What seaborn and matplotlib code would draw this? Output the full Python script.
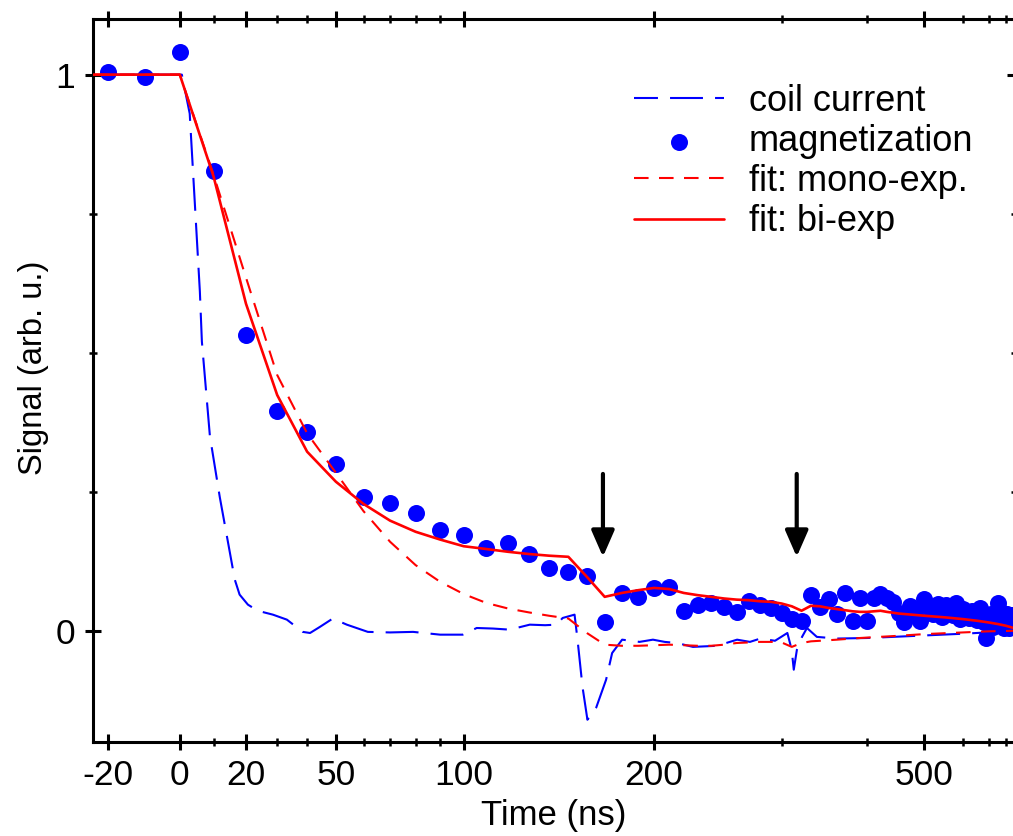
"""Demagnetization transient: coil current, magnetization and exponential fits."""

import matplotlib

matplotlib.use("Agg")
import matplotlib.pyplot as plt
import numpy as np
import seaborn as sns

# the time axis is compressed as 1 - exp(-t / AXIS_TAU)
AXIS_TAU = 250.0

# magnetization, one point every 10 ns
mag_time = [
    -20, -10, 0, 10, 20, 30, 40, 50, 60, 70, 80, 90, 100, 110, 120, 130, 140, 150,
    160, 170, 180, 190, 200, 210, 220, 230, 240, 250, 260, 270, 280, 290, 300, 310,
    320, 330, 340, 350, 360, 370, 380, 390, 400, 410, 420, 430, 440, 450, 460, 470,
    480, 490, 500, 510, 520, 530, 540, 550, 560, 570, 580, 590, 600, 610, 620, 630,
    640, 650, 660, 670, 680, 690, 700, 710, 720, 730, 740, 750, 760, 770, 780, 790,
    800, 810, 820, 830, 840, 850, 860, 870,
]
mag_signal = [
    1.005, 0.996, 1.040, 0.826, 0.532, 0.396, 0.358, 0.300, 0.241, 0.230, 0.212, 0.182,
    0.173, 0.149, 0.158, 0.138, 0.113, 0.106, 0.099, 0.016, 0.068, 0.061, 0.077, 0.079,
    0.036, 0.047, 0.050, 0.043, 0.034, 0.054, 0.047, 0.041, 0.032, 0.022, 0.018, 0.065,
    0.043, 0.058, 0.031, 0.068, 0.018, 0.059, 0.018, 0.059, 0.067, 0.059, 0.052, 0.032,
    0.016, 0.045, 0.034, 0.018, 0.058, 0.043, 0.030, 0.048, 0.025, 0.047, 0.036, 0.029,
    0.050, 0.022, 0.040, 0.030, 0.023, 0.035, 0.032, 0.020, 0.041, 0.028, 0.015, -0.013,
    0.010, 0.030, 0.007, 0.025, 0.018, 0.050, 0.020, 0.012, 0.032, 0.005, 0.022, 0.030,
    0.005, 0.018, 0.010, 0.028, 0.012, 0.020,
]

# bi-exponential fit
bi_time = [
    -30, -20, -10, 0, 10, 20, 30, 40, 50, 60, 70, 80, 90, 100, 110, 120, 130, 140, 150,
    160, 170, 180, 190, 200, 210, 220, 230, 240, 250, 260, 270, 280, 290, 300, 310, 320,
    330, 340, 350, 360, 370, 380, 390, 400, 410, 420, 430, 450, 500, 550, 600, 650, 700,
    750, 800, 880,
]
bi_signal = [
    1.0, 1.0, 1.0, 1.0, 0.817, 0.588, 0.424, 0.322, 0.268, 0.228, 0.198, 0.178, 0.164,
    0.152, 0.147, 0.142, 0.138, 0.135, 0.133, 0.097, 0.061, 0.068, 0.073, 0.077, 0.075,
    0.068, 0.064, 0.061, 0.058, 0.056, 0.055, 0.053, 0.052, 0.049, 0.044, 0.036, 0.045,
    0.044, 0.041, 0.039, 0.037, 0.035, 0.034, 0.034, 0.035, 0.036, 0.034, 0.031, 0.027,
    0.024, 0.021, 0.018, 0.015, 0.012, 0.009, 0.004,
]

# mono-exponential fit
mono_time = [
    -30, -20, -10, 0, 10, 20, 30, 40, 50, 60, 70, 80, 90, 100, 110, 120, 130, 140, 150,
    160, 170, 180, 190, 200, 210, 220, 230, 240, 250, 260, 270, 280, 290, 300, 310, 320,
    330, 340, 360, 390, 450, 500, 600, 700, 880,
]
mono_signal = [
    1.0, 1.0, 1.0, 1.0, 0.82, 0.635, 0.46, 0.355, 0.284, 0.215, 0.16, 0.118, 0.088,
    0.066, 0.05, 0.04, 0.033, 0.027, 0.022, -0.004, -0.025, -0.027, -0.027, -0.026,
    -0.025, -0.026, -0.027, -0.027, -0.025, -0.022, -0.021, -0.020, -0.020, -0.021,
    -0.029, -0.022, -0.019, -0.018, -0.016, -0.013, -0.009, -0.006, -0.003, -0.001, 0.0,
]

# coil current (normalised)
coil_time = [
    -30, 0, 0.6, 2.9, 5.9, 6.5, 8.9, 11.9, 15.0, 16.5, 18.0, 20.6, 23.7, 28.6, 33.2,
    38.5, 41.0, 44.4, 48.9, 53.9, 61.6, 70.0, 79.0, 90.0, 99.6, 105.7, 113.0, 120.8,
    130.4, 138.0, 143.9, 147.0, 153.3, 154.9, 157.6, 160.3, 165.2, 170.8, 174.3, 180.2,
    190.8, 199.3, 207.0, 215.3, 226.5, 244.5, 260.4, 271.2, 280.3, 293.7, 305.6, 309.9,
    312.0, 315.2, 320.5, 325.7, 336.5, 360.0, 400.0, 440.0, 613.0, 880.0,
]
coil_signal = [
    1.0, 1.0, 1.0, 0.93, 0.61, 0.52, 0.35, 0.24, 0.14, 0.092, 0.065, 0.047, 0.036, 0.029,
    0.020, -0.002, -0.004, 0.007, 0.022, 0.011, -0.002, -0.003, -0.002, -0.007, -0.007,
    0.005, 0.004, 0.002, 0.011, 0.010, 0.011, 0.023, 0.029, -0.016, -0.101, -0.160,
    -0.138, -0.088, -0.040, -0.016, -0.020, -0.016, -0.020, -0.022, -0.029, -0.027,
    -0.016, -0.020, -0.014, -0.018, -0.004, -0.034, -0.070, -0.034, -0.011, 0.005,
    -0.011, -0.014, -0.013, -0.011, -0.005, 0.0,
]

# arrows marking the reflected current pulses
arrow_time = [169, 315]
arrow_top = 0.282
arrow_tip = 0.133

major_ticks = [-20, 0, 20, 50, 100, 200, 500]
major_labels = ["-20", "0", "20", "50", "100", "200", "500"]
minor_ticks = [10, 30, 40, 60, 70, 80, 90, 300, 400, 600, 700, 800]


def forward(t):
    return 1.0 - np.exp(-np.asarray(t, dtype=float) / AXIS_TAU)


def inverse(u):
    u = np.asarray(u, dtype=float)
    return -AXIS_TAU * np.log(np.clip(1.0 - u, 1e-12, None))


sns.set_theme(style="white")
plt.rcParams["font.family"] = ["Liberation Sans", "DejaVu Sans"]
plt.rcParams.update({"text.color": "black", "axes.labelcolor": "black",
                     "xtick.color": "black", "ytick.color": "black"})

fig = plt.figure(figsize=(10.13, 8.36), dpi=100)
ax = fig.add_axes([93 / 1013, 94 / 836, 922 / 1013, 723 / 836])

blue = "#0000ff"
red = "#ff0000"

sns.lineplot(x=coil_time, y=coil_signal, color=blue, lw=1.5, estimator=None, sort=False,
             linestyle=(4.3, (15.8, 5.8)), label="coil current", ax=ax)
sns.scatterplot(x=mag_time, y=mag_signal, color=blue, s=150, linewidth=0,
                label="magnetization", ax=ax, zorder=3)
sns.lineplot(x=mono_time, y=mono_signal, color=red, lw=1.5, estimator=None, sort=False,
             linestyle=(0, (7.0, 5.0)), label="fit: mono-exp.", ax=ax, zorder=4)
sns.lineplot(x=bi_time, y=bi_signal, color=red, lw=1.9, estimator=None, sort=False,
             label="fit: bi-exp", ax=ax, zorder=5)

for t in arrow_time:
    ax.annotate("", xy=(t, arrow_tip), xytext=(t, arrow_top),
                arrowprops=dict(arrowstyle="-|>,head_length=0.8,head_width=0.35",
                                color="black", lw=3, shrinkA=0, shrinkB=0,
                                mutation_scale=20))

ax.set_xscale("function", functions=(forward, inverse))
ax.set_xlim(-24, 875)
ax.set_ylim(-0.2, 1.1)
ax.set_xticks(major_ticks, labels=major_labels)
ax.set_xticks(minor_ticks, minor=True)
ax.set_yticks([0, 1], labels=["0", "1"])
ax.set_yticks([0.25, 0.5, 0.75], minor=True)

for side in ["left", "right", "top", "bottom"]:
    ax.spines[side].set_color("black")
    ax.spines[side].set_linewidth(2.2)
ax.tick_params(which="both", direction="inout", top=True, right=True, bottom=True,
               left=True, colors="black", labelsize=25.5)
ax.tick_params(which="major", length=11.5, width=2.2)
ax.tick_params(which="minor", length=5.5, width=1.8)
ax.tick_params(axis="x", which="major", pad=6.5)
ax.tick_params(axis="y", which="major", pad=7)

ax.set_xlabel("Time (ns)", fontsize=25, labelpad=5)
ax.set_ylabel("Signal (arb. u.)", fontsize=23.5, labelpad=4.5)
ax.yaxis.label.set_y((742 - 368) / 723)

handles, labels = ax.get_legend_handles_labels()
order = ["coil current", "magnetization", "fit: mono-exp.", "fit: bi-exp"]
picked = [handles[labels.index(name)] for name in order]
ax.legend(picked, order, loc="upper left", bbox_to_anchor=(634 / 1013, 1 - 84 / 836),
          bbox_transform=fig.transFigure, frameon=False, fontsize=26, handlelength=2.5,
          handletextpad=0.68, labelspacing=0.14, borderpad=0, borderaxespad=0)

fig.savefig("out.png", dpi=100)
plt.close(fig)
